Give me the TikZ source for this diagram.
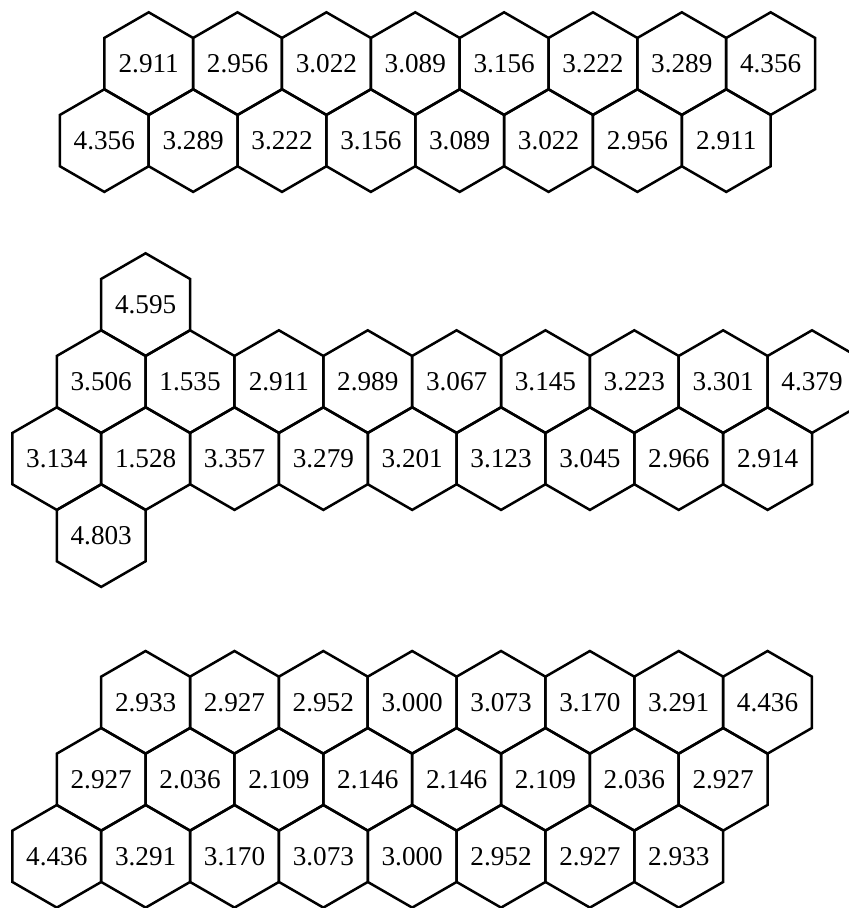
\documentclass[tikz,border=0pt]{standalone}
\usepackage{fontspec}
\setmainfont{Liberation Serif}
\usepackage{tikz}
\usetikzlibrary{shapes.geometric}
\tikzset{
  celda/.style={regular polygon, regular polygon sides=6, shape border rotate=30,
    draw=black, line width=1.25pt, line join=miter, minimum size=51.3pt, inner sep=0pt, outer sep=0pt,
    font=\fontsize{13.6}{16}\selectfont},
}

\begin{document}
\begin{tikzpicture}[x=0.5pt, y=-0.5pt]
  \useasboundingbox (0,0) rectangle (848,908);
  % panel superior
  \foreach \v [count=\i from 0] in {2.911,2.956,3.022,3.089,3.156,3.222,3.289,4.356}
    \node[celda] (sa\i) at ({148.7+\i*88.85},63.6) {\v};
  \foreach \v [count=\i from 0] in {4.356,3.289,3.222,3.156,3.089,3.022,2.956,2.911}
    \node[celda] (sb\i) at ({104.3+\i*88.85},140.6) {\v};
  % panel central
  \node[celda] (mtop) at (145.6,304.6) {4.595};
  \foreach \v [count=\i from 0] in {3.506,1.535,2.911,2.989,3.067,3.145,3.223,3.301,4.379}
    \node[celda] (ma\i) at ({101.2+\i*88.85},381.6) {\v};
  \foreach \v [count=\i from 0] in {3.134,1.528,3.357,3.279,3.201,3.123,3.045,2.966,2.914}
    \node[celda] (mb\i) at ({56.8+\i*88.85},458.6) {\v};
  \node[celda] (mbot) at (101.2,535.6) {4.803};
  % panel inferior
  \foreach \v [count=\i from 0] in {2.933,2.927,2.952,3.000,3.073,3.170,3.291,4.436}
    \node[celda] (ia\i) at ({145.6+\i*88.85},702.3) {\v};
  \foreach \v [count=\i from 0] in {2.927,2.036,2.109,2.146,2.146,2.109,2.036,2.927}
    \node[celda] (ib\i) at ({101.2+\i*88.85},779.3) {\v};
  \foreach \v [count=\i from 0] in {4.436,3.291,3.170,3.073,3.000,2.952,2.927,2.933}
    \node[celda] (ic\i) at ({56.8+\i*88.85},856.3) {\v};
\end{tikzpicture}
\end{document}
